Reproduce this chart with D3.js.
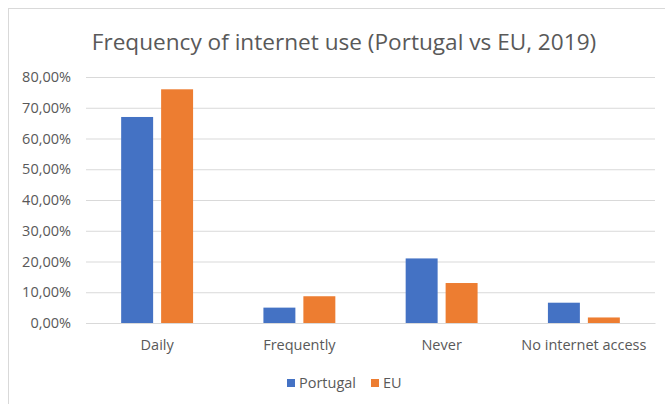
<!DOCTYPE html>
<html>
<head>
<meta charset="utf-8">
<script src="https://cdn.jsdelivr.net/npm/d3@7"></script>
<style>
  body { margin: 0; background: #fff; }
  text { font-family: "Open Sans", "Noto Sans", sans-serif; fill: #595959; }
</style>
</head>
<body>
<script>
// data
var categories = ["Daily", "Frequently", "Never", "No internet access"];
var seriesNames = ["Portugal", "EU"];
var portugal = [0.67, 0.05, 0.21, 0.066];
var eu = [0.76, 0.087, 0.13, 0.018];
var yTicks = [0, 0.1, 0.2, 0.3, 0.4, 0.5, 0.6, 0.7, 0.8];

var colors = ["#4472c4", "#ed7d31"];
var width = 665, height = 404;
var plot = { left: 86, right: 655, top: 77, bottom: 323 };

var svg = d3.select("body").append("svg")
    .attr("width", width)
    .attr("height", height);

// chart frame
svg.append("rect")
    .attr("x", 8.5).attr("y", 8.5)
    .attr("width", 660).attr("height", 400)
    .attr("fill", "#fff")
    .attr("stroke", "#d9d9d9");

// title
svg.append("text")
    .attr("x", 344).attr("y", 50)
    .attr("text-anchor", "middle")
    .style("font-size", "22.6px")
    .text("Frequency of internet use (Portugal vs EU, 2019)");

var x = d3.scaleBand()
    .domain(categories)
    .range([plot.left, plot.right]);

var x1 = d3.scaleBand()
    .domain(seriesNames)
    .range([0, x.bandwidth()])
    .paddingInner(0.2)
    .paddingOuter(0.88);

var y = d3.scaleLinear()
    .domain([0, 0.8])
    .range([plot.bottom, plot.top]);

var fmt = function(d) { return d3.format(".2%")(d).replace(".", ","); };

// y axis with gridlines
var yAxis = d3.axisLeft(y)
    .tickValues(yTicks)
    .tickSize(-(plot.right - plot.left))
    .tickPadding(15)
    .tickFormat(fmt);

var yg = svg.append("g")
    .attr("transform", "translate(" + plot.left + ",0)")
    .call(yAxis);
yg.select(".domain").remove();
yg.selectAll(".tick line").attr("stroke", "#d9d9d9");
yg.selectAll(".tick text")
    .style("font-size", "14.5px")
    .attr("fill", "#595959");

// bars
var data = categories.map(function(c, i) {
    return { cat: c, vals: [portugal[i], eu[i]] };
});

var groups = svg.selectAll(".grp").data(data)
    .enter().append("g")
    .attr("transform", function(d) { return "translate(" + x(d.cat) + ",0)"; });

groups.selectAll("rect")
    .data(function(d) { return d.vals.map(function(v, j) { return { s: seriesNames[j], v: v, j: j }; }); })
    .enter().append("rect")
    .attr("x", function(d) { return x1(d.s); })
    .attr("width", x1.bandwidth())
    .attr("y", function(d) { return y(d.v); })
    .attr("height", function(d) { return y(0) - y(d.v); })
    .attr("fill", function(d) { return colors[d.j]; });

// x axis labels
var xAxis = d3.axisBottom(x).tickSize(0).tickPadding(17);
var xg = svg.append("g")
    .attr("transform", "translate(0," + plot.bottom + ")")
    .call(xAxis);
xg.select(".domain").attr("stroke", "#d9d9d9");
xg.selectAll(".tick text")
    .style("font-size", "14.5px")
    .attr("fill", "#595959");

// legend
var legendX = [287, 371];
var legend = svg.selectAll(".leg").data(seriesNames)
    .enter().append("g")
    .attr("transform", function(d, i) { return "translate(" + legendX[i] + ",379)"; });
legend.append("rect")
    .attr("width", 8).attr("height", 8)
    .attr("fill", function(d, i) { return colors[i]; });
legend.append("text")
    .attr("x", 12).attr("y", 9)
    .style("font-size", "14.5px")
    .text(function(d) { return d; });
</script>
</body>
</html>
